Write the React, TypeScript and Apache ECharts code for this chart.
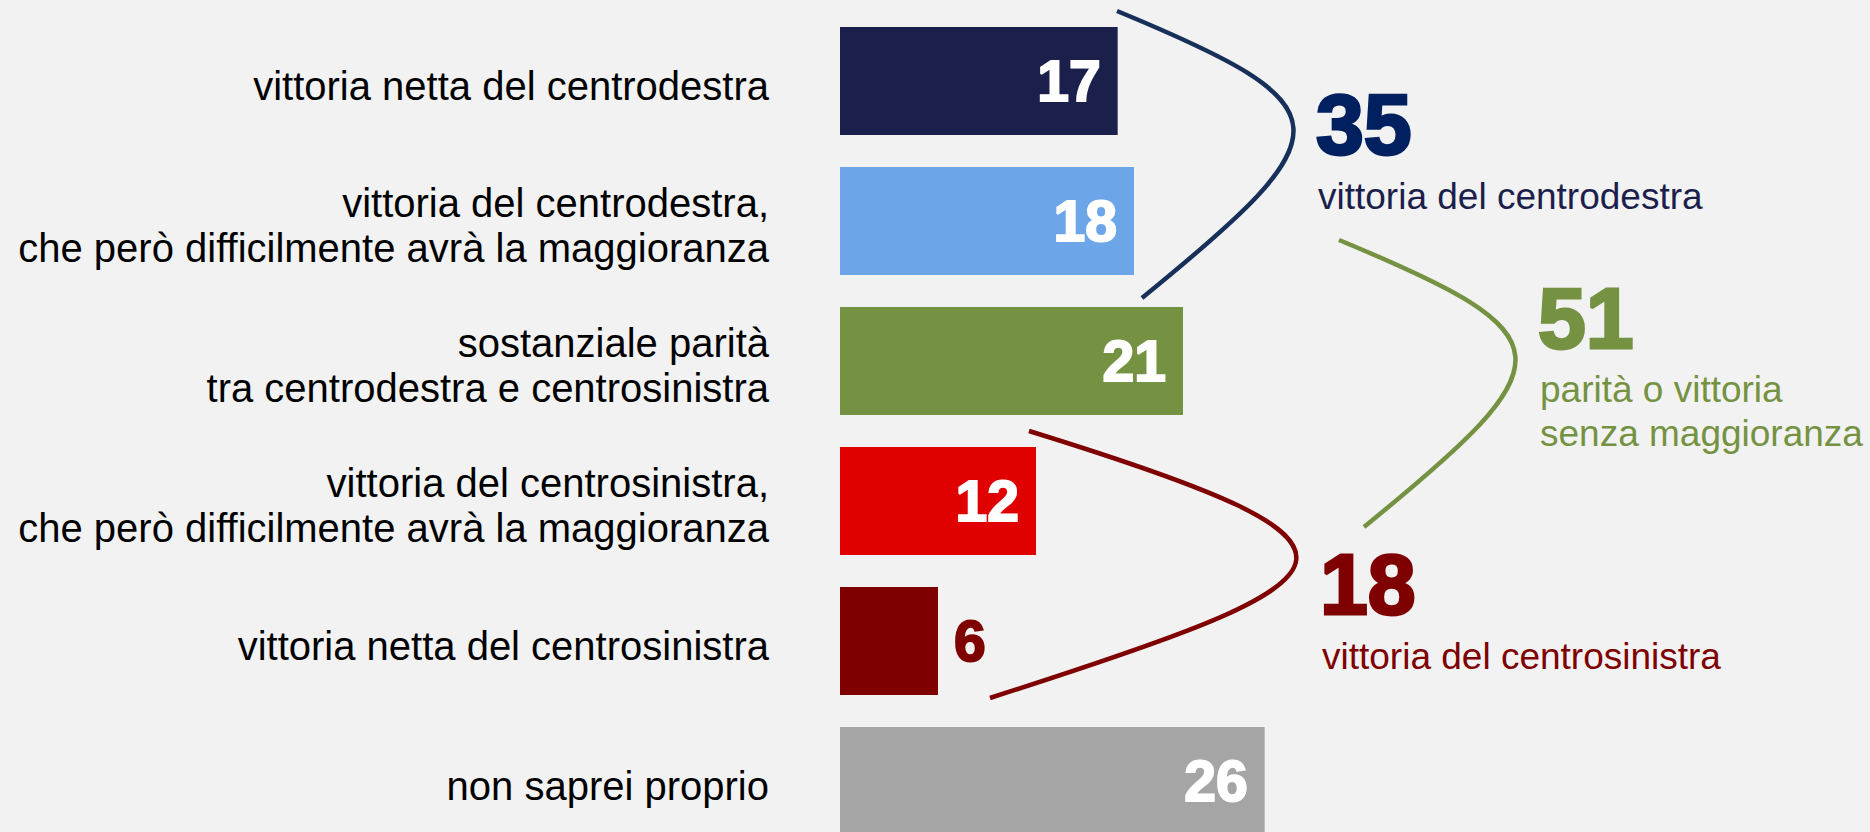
import React, { useEffect, useRef } from "react";
import * as echarts from "echarts";

const categories = [
  "vittoria netta del centrodestra",
  "vittoria del centrodestra,\nche però difficilmente avrà la maggioranza",
  "sostanziale parità\ntra centrodestra e centrosinistra",
  "vittoria del centrosinistra,\nche però difficilmente avrà la maggioranza",
  "vittoria netta del centrosinistra",
  "non saprei proprio",
];
const values = [17, 18, 21, 12, 6, 26];
const groupTotals = ["35", "51", "18"];
const groupLabels = [
  "vittoria del centrodestra",
  "parità o vittoria\nsenza maggioranza",
  "vittoria del centrosinistra",
];

const barColors = ["#1b1f4b", "#6ca6e9", "#759243", "#e00000", "#7f0000", "#a5a5a5"];
const FONT = '"Liberation Sans", Arial, sans-serif';

export default function App() {
  const ref = useRef<HTMLDivElement>(null);
  useEffect(() => {
    if (!ref.current) return;
    const chart = echarts.init(ref.current, undefined, { renderer: "svg" });

    const brackets = [
      { x1: 1117, y1: 11, cpx1: 1349, cpy1: 107, cpx2: 1347, cpy2: 131, x2: 1142, y2: 298, color: "#17305a" },
      { x1: 1339, y1: 240, cpx1: 1571, cpy1: 336, cpx2: 1569, cpy2: 360, x2: 1364, y2: 527, color: "#759243" },
      { x1: 1029, y1: 431, cpx1: 1411, cpy1: 549, cpx2: 1371, cpy2: 576, x2: 990, y2: 698, color: "#7f0000" },
    ];
    const annot = [
      { x: 1316, numY: 124, textY: 196, numColor: "#002060", textColor: "#1c1f4c" },
      { x: 1538, numY: 318, textY: 389, numColor: "#759243", textColor: "#759243" },
      { x: 1320, numY: 584, textY: 656, numColor: "#7f0000", textColor: "#7f0000" },
    ];

    const graphic: any[] = [];
    brackets.forEach((b) => {
      graphic.push({
        type: "bezierCurve",
        shape: { x1: b.x1, y1: b.y1, cpx1: b.cpx1, cpy1: b.cpy1, cpx2: b.cpx2, cpy2: b.cpy2, x2: b.x2, y2: b.y2 },
        style: { stroke: b.color, lineWidth: 4.5, fill: null },
        silent: true,
      });
    });
    annot.forEach((a, i) => {
      graphic.push({
        type: "text",
        x: a.x,
        y: a.numY,
        style: {
          text: groupTotals[i],
          fill: a.numColor,
          font: `bold 86px ${FONT}`,
          align: "left",
          verticalAlign: "middle",
          stroke: a.numColor,
          lineWidth: 3,
        },
      });
      groupLabels[i].split("\n").forEach((line, j) => {
        graphic.push({
          type: "text",
          x: a.x + 2,
          y: a.textY + j * 44,
          style: {
            text: line,
            fill: a.textColor,
            font: `37px ${FONT}`,
            align: "left",
            verticalAlign: "middle",
          },
        });
      });
    });

    chart.setOption({
      animation: false,
      backgroundColor: "#f2f2f2",
      grid: {
        left: 840,
        top: 11,
        width: 980,
        height: 840,
        containLabel: false,
        outerBoundsMode: "none",
      },
      xAxis: { type: "value", min: 0, max: 60, show: false },
      yAxis: {
        type: "category",
        data: categories,
        inverse: true,
        axisLine: { show: false },
        axisTick: { show: false },
        splitLine: { show: false },
        axisLabel: {
          color: "#000000",
          fontSize: 40,
          fontFamily: FONT,
          lineHeight: 45,
          margin: 71,
          align: "right",
          formatter: (v: string) =>
            "{s| }\n" + v.split("\n").map((l) => `{a|${l}}`).join("\n"),
          rich: {
            s: { fontSize: 2, lineHeight: 9 },
            a: { fontSize: 40, lineHeight: 45, fontFamily: FONT, color: "#000000" },
          },
        },
      },
      series: [
        {
          type: "bar",
          barWidth: 108,
          data: values.map((v, i) => ({
            value: v,
            itemStyle: { color: barColors[i] },
            label:
              v < 8
                ? {
                    position: "right",
                    distance: 16,
                    color: "#7f0000",
                    textBorderColor: "#7f0000",
                  }
                : undefined,
          })),
          label: {
            show: true,
            position: "insideRight",
            distance: 17,
            color: "#ffffff",
            fontSize: 57,
            fontWeight: "bold",
            fontFamily: FONT,
            textBorderColor: "#ffffff",
            textBorderWidth: 2,
          },
        },
      ],
      graphic,
    });

    return () => chart.dispose();
  }, []);

  return (
    <div
      ref={ref}
      style={{ position: "fixed", left: 0, top: 0, width: 1870, height: 832 }}
    />
  );
}
